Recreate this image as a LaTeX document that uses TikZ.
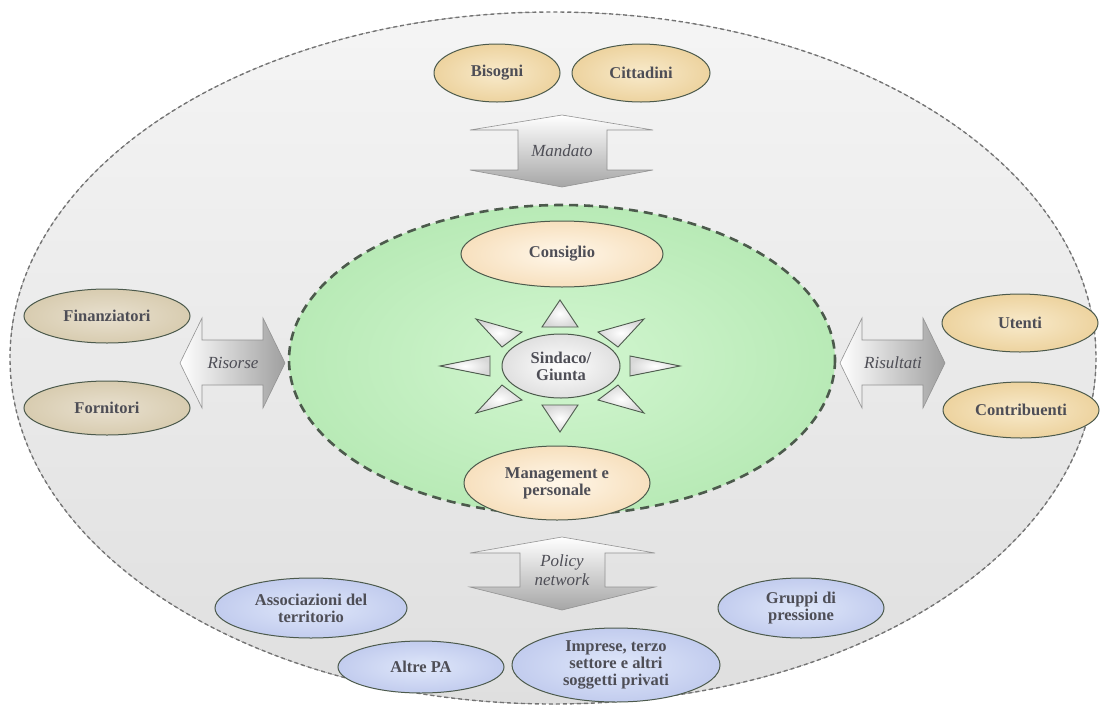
\documentclass[tikz,border=0pt]{standalone}
\usepackage{fontspec}
\setmainfont{Liberation Serif}
\usetikzlibrary{shapes.geometric}
\definecolor{txt}{HTML}{4E4E56}
\definecolor{edge}{HTML}{4C5A4C}
\definecolor{tanin}{HTML}{F8EACB}
\definecolor{tanout}{HTML}{EDD39F}
\definecolor{beigein}{HTML}{E8E0CF}
\definecolor{beigeout}{HTML}{D8CCB0}
\definecolor{creamin}{HTML}{FFF7EA}
\definecolor{creamout}{HTML}{F7E0BE}
\definecolor{bluein}{HTML}{DFE7FA}
\definecolor{blueout}{HTML}{C2CCEE}
\definecolor{greyin}{HTML}{F2F2F2}
\definecolor{greyout}{HTML}{D8D8D8}
\definecolor{greenin}{HTML}{D2F6D0}
\definecolor{greenout}{HTML}{B8EAB6}
\begin{document}
\begin{tikzpicture}[x=1pt,y=-1pt,
  ell/.style={ellipse, draw=edge, line width=1pt, inner sep=0pt, align=center,
    font=\bfseries\fontsize{16.5}{17}\selectfont, text=txt},
  tanell/.style={ell, inner color=tanin, outer color=tanout},
  beigeell/.style={ell, inner color=beigein, outer color=beigeout},
  creamell/.style={ell, inner color=creamin, outer color=creamout},
  blueell/.style={ell, inner color=bluein, outer color=blueout},
  greyell/.style={ell, inner color=white, outer color=greyout!80!white},
  ray/.style={draw=edge, line width=0.9pt, inner color=white, outer color=greyout},
  vbig/.style={draw=gray!85, line width=0.6pt, top color=white, bottom color=gray!70},
  hbig/.style={draw=gray!85, line width=0.6pt, left color=white, right color=gray!75},
  arrlabel/.style={font=\itshape\fontsize{17}{18.5}\selectfont, text=txt, align=center}
]
\useasboundingbox (0,0) rectangle (1104,710);
% outer ellipse
\fill[top color=greyin!80!white, bottom color=gray!25] (553,358) ellipse [x radius=543, y radius=346];
\draw[gray!90!black, line width=1.4pt, dash pattern=on 4pt off 3pt] (553,358) ellipse [x radius=543, y radius=346];
% inner green ellipse
\shade[inner color=greenin, outer color=greenout] (562,360) ellipse [x radius=273, y radius=155];
\draw[edge, line width=2.6pt, dash pattern=on 9pt off 6pt] (562,360) ellipse [x radius=273, y radius=155];

% top
\node[tanell, minimum width=126pt, minimum height=58pt] (bis) at (497,73) {Bisogni};
\node[tanell, minimum width=138pt, minimum height=58pt] (cit) at (641,73) {Cittadini};
\path[vbig] (562,115) -- (653,130) -- (607,130) -- (607,170) -- (653,170) -- (562,187)
  -- (470,170) -- (518,170) -- (518,130) -- (470,130) -- cycle;
\node[arrlabel] (mand) at (562,151) {Mandato};

% left
\node[beigeell, minimum width=166pt, minimum height=54pt] (fin) at (107,316) {Finanziatori};
\node[beigeell, minimum width=166pt, minimum height=54pt] (forn) at (107,408) {Fornitori};
\path[hbig] (180,363) -- (202,318) -- (202,340) -- (263,340) -- (263,318) -- (285,363)
  -- (263,408) -- (263,385) -- (202,385) -- (202,408) -- cycle;
\node[arrlabel] (ris) at (233,363) {Risorse};

% right
\node[tanell, minimum width=156pt, minimum height=58pt] (ute) at (1020,323) {Utenti};
\node[tanell, minimum width=156pt, minimum height=56pt] (con) at (1021,410) {Contribuenti};
\path[hbig] (840,363) -- (862,318) -- (862,340) -- (923,340) -- (923,318) -- (945,363)
  -- (923,408) -- (923,385) -- (862,385) -- (862,408) -- cycle;
\node[arrlabel] (risu) at (893,363) {Risultati};

% centre
\node[creamell, minimum width=202pt, minimum height=66pt] (cons) at (562,254) {Consiglio};
\node[creamell, minimum width=186pt, minimum height=74pt] (man) at (557,483) {Management e\\personale};
\begin{scope}[shift={(560,366)}]
  \path[ray] (-18,-39) -- (18,-39) -- (0,-66) -- cycle;
  \path[ray] (-18,39) -- (18,39) -- (0,66) -- cycle;
  \path[ray] (-70,-10) -- (-70,10) -- (-120,0) -- cycle;
  \path[ray] (70,-10) -- (70,10) -- (120,0) -- cycle;
  \path[ray] (-38,-34) -- (-58,-19) -- (-84,-47) -- cycle;
  \path[ray] (38,-34) -- (58,-19) -- (84,-47) -- cycle;
  \path[ray] (-38,34) -- (-58,19) -- (-84,47) -- cycle;
  \path[ray] (38,34) -- (58,19) -- (84,47) -- cycle;
\end{scope}
\node[greyell, minimum width=118pt, minimum height=64pt] (sin) at (561,366) {Sindaco/\\Giunta};

% bottom
\path[vbig] (562,537) -- (655,553) -- (605,553) -- (605,587) -- (655,587) -- (562,610)
  -- (470,587) -- (520,587) -- (520,553) -- (470,553) -- cycle;
\node[arrlabel] (pol) at (562,570) {Policy\\network};
\node[blueell, minimum width=192pt, minimum height=60pt] (ass) at (311,608) {Associazioni del\\territorio};
\node[blueell, minimum width=166pt, minimum height=52pt] (alt) at (421,667) {Altre PA};
\node[blueell, minimum width=208pt, minimum height=74pt] (imp) at (616,665) {Imprese, terzo\\settore e altri\\soggetti privati};
\node[blueell, minimum width=166pt, minimum height=60pt] (gru) at (801,608) {Gruppi di\\pressione};
\end{tikzpicture}
\end{document}
